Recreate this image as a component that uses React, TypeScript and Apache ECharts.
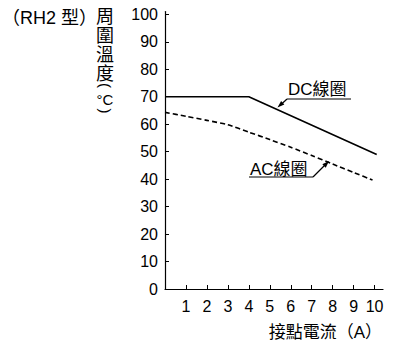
import React, { useEffect, useRef } from "react";
import * as echarts from "echarts";

// Tick labels
const xTicks = [1, 2, 3, 4, 5, 6, 7, 8, 9, 10];
const yTicks = [0, 10, 20, 30, 40, 50, 60, 70, 80, 90, 100];

// DC coil: ambient temperature (°C) vs contact current (A)
const dcCurrent = [0, 4, 10.1];
const dcTemp = [70, 70, 49];

// AC coil
const acCurrent = [0, 1, 2, 3, 4, 5, 6, 7, 8, 9, 9.9];
const acTemp = [64.3, 62.9, 61.4, 59.8, 57.1, 54.4, 51.6, 48.6, 45.5, 42.4, 39.7];

const yTitleChars = ["周", "圍", "溫", "度"];

const FONT = '"Liberation Sans", "Noto Sans CJK TC", sans-serif';

function txt(text: string, x: number, y: number, size: number, align = "left", extra: any = {}) {
  return {
    type: "text",
    x,
    y,
    ...extra,
    style: {
      text,
      fill: "#000",
      fontSize: size,
      fontFamily: FONT,
      align,
      textAlign: align,
      verticalAlign: "middle",
      textVerticalAlign: "middle",
    },
  };
}

function arrowHead(tipX: number, tipY: number, fromX: number, fromY: number) {
  const dx = tipX - fromX;
  const dy = tipY - fromY;
  const len = Math.sqrt(dx * dx + dy * dy);
  const ux = dx / len;
  const uy = dy / len;
  const bx = tipX - 7 * ux;
  const by = tipY - 7 * uy;
  const px = -uy * 2.4;
  const py = ux * 2.4;
  return {
    type: "polygon",
    shape: { points: [[tipX, tipY], [bx + px, by + py], [bx - px, by - py]] },
    style: { fill: "#000" },
  };
}

export default function App() {
  const ref = useRef<HTMLDivElement>(null);
  useEffect(() => {
    if (!ref.current) return;
    const chart = echarts.init(ref.current, null, { renderer: "svg" });
    const graphics: any[] = [];
    graphics.push(txt("（RH2 型）", 2, 18, 18));
    yTitleChars.forEach((c, i) => graphics.push(txt(c, 105, 16.5 + i * 19, 18, "center")));
    graphics.push(txt("(", 105, 85.5, 15, "center", { rotation: -Math.PI / 2 }));
    graphics.push(txt("°C", 105, 99.5, 15, "center"));
    graphics.push(txt(")", 105, 111, 15, "center", { rotation: -Math.PI / 2 }));
    graphics.push(txt("接點電流（A）", 382, 332.5, 17, "right"));
    // DC annotation
    graphics.push(txt("DC線圈", 288, 89.5, 17));
    graphics.push({ type: "line", shape: { x1: 287, y1: 99, x2: 351, y2: 99 }, style: { stroke: "#000", lineWidth: 1.2 } });
    graphics.push({ type: "line", shape: { x1: 287, y1: 99, x2: 280, y2: 105.5 }, style: { stroke: "#000", lineWidth: 1.2 } });
    graphics.push(arrowHead(277.5, 107.5, 287, 99));
    // AC annotation
    graphics.push(txt("AC線圈", 250, 169, 17));
    graphics.push({ type: "line", shape: { x1: 249, y1: 177, x2: 313, y2: 177 }, style: { stroke: "#000", lineWidth: 1.2 } });
    graphics.push({ type: "line", shape: { x1: 313, y1: 177, x2: 326, y2: 164 }, style: { stroke: "#000", lineWidth: 1.2 } });
    graphics.push(arrowHead(329, 161, 313, 177));

    chart.setOption({
      animation: false,
      backgroundColor: "#fff",
      grid: { left: 165, right: 10, top: 11.6, bottom: 58, containLabel: false },
      xAxis: {
        type: "value",
        min: 0,
        max: 10.4,
        axisLine: { show: true, lineStyle: { color: "#000", width: 1.2 } },
        axisTick: { show: true, inside: true, length: 4, customValues: xTicks, lineStyle: { color: "#000" } },
        axisLabel: { customValues: xTicks, color: "#000", fontSize: 16, fontFamily: FONT, margin: 9 },
        splitLine: { show: false },
      },
      yAxis: {
        type: "value",
        min: 0,
        max: 101,
        axisLine: { show: true, lineStyle: { color: "#000", width: 1.2 } },
        axisTick: { show: true, inside: true, length: 4, customValues: yTicks.slice(1), lineStyle: { color: "#000" } },
        axisLabel: { customValues: yTicks, color: "#000", fontSize: 16, fontFamily: FONT, margin: 7 },
        splitLine: { show: false },
      },
      series: [
        {
          name: "DC線圈",
          type: "line",
          data: dcCurrent.map((x, i) => [x, dcTemp[i]]),
          showSymbol: false,
          lineStyle: { color: "#000", width: 1.6 },
        },
        {
          name: "AC線圈",
          type: "line",
          data: acCurrent.map((x, i) => [x, acTemp[i]]),
          showSymbol: false,
          smooth: 0.2,
          lineStyle: { color: "#000", width: 1.6, type: [5, 3] },
        },
      ],
      graphic: graphics,
    });
    return () => chart.dispose();
  }, []);
  return <div ref={ref} style={{ position: "fixed", left: 0, top: 0, width: 393, height: 347, background: "#fff" }} />;
}
